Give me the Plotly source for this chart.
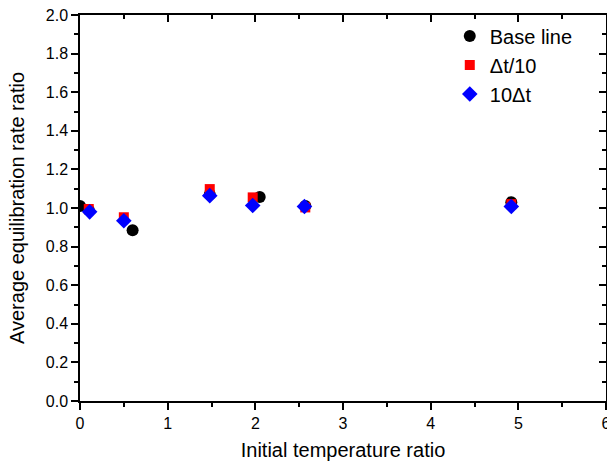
import plotly.graph_objects as go

base_x = [0.0, 0.10, 0.60, 1.48, 2.05, 2.57, 4.92]
base_y = [1.01, 0.99, 0.885, 1.07, 1.057, 1.01, 1.03]
dt10_x = [0.10, 0.50, 1.48, 1.97, 2.57, 4.92]
dt10_y = [0.995, 0.952, 1.098, 1.055, 1.003, 1.02]
ten_dt_x = [0.11, 0.50, 1.48, 1.97, 2.56, 4.92]
ten_dt_y = [0.98, 0.934, 1.064, 1.013, 1.008, 1.008]

font = "Liberation Sans, Arial, sans-serif"

fig = go.Figure()
fig.add_trace(go.Scatter(x=base_x, y=base_y, mode="markers", name="Base line",
                         marker=dict(symbol="circle", size=12, color="black")))
fig.add_trace(go.Scatter(x=dt10_x, y=dt10_y, mode="markers", name="\u0394t/10",
                         marker=dict(symbol="square", size=10, color="#ff0000")))
fig.add_trace(go.Scatter(x=ten_dt_x, y=ten_dt_y, mode="markers", name="10\u0394t",
                         marker=dict(symbol="diamond", size=12, color="#0000ff")))
# transparent copy on the mirrored axes so that they are drawn (inward ticks on top/right)
fig.add_trace(go.Scatter(x=base_x, y=base_y, xaxis="x2", yaxis="y2", mode="markers",
                         marker=dict(opacity=0, size=1), showlegend=False, hoverinfo="skip"))

common = dict(showgrid=False, zeroline=False, linecolor="black", linewidth=1.5,
              tickcolor="black", ticklen=7, tickwidth=1.5, automargin=False,
              ticklabeloverflow="allow",
              tickfont=dict(family=font, size=16, color="black"))

fig.update_layout(
    width=607, height=465,
    margin=dict(l=80, r=1, t=15, b=64),
    paper_bgcolor="white", plot_bgcolor="white",
    font=dict(family=font, color="black"),
    xaxis=dict(range=[0, 6], dtick=1, ticks="outside", showline=True,
               minor=dict(dtick=0.5, ticks="outside", ticklen=4, tickcolor="black", tickwidth=1.5),
               title=dict(text="Initial temperature ratio", font=dict(family=font, size=20), standoff=12),
               **common),
    yaxis=dict(range=[0, 2], dtick=0.2, tickformat=".1f", ticks="outside", showline=True,
               minor=dict(dtick=0.1, ticks="outside", ticklen=4, tickcolor="black", tickwidth=1.5),
               title=dict(text="Average equilibration rate ratio", font=dict(family=font, size=20), standoff=16),
               **common),
    xaxis2=dict(range=[0, 6], dtick=1, ticks="inside", showline=True, overlaying="x", side="top",
                showticklabels=False, anchor="y2",
                minor=dict(dtick=0.5, ticks="inside", ticklen=4, tickcolor="black", tickwidth=1.5),
                **common),
    yaxis2=dict(range=[0, 2], dtick=0.2, ticks="inside", showline=True, overlaying="y", side="right",
                showticklabels=False, anchor="x2",
                minor=dict(dtick=0.1, ticks="inside", ticklen=4, tickcolor="black", tickwidth=1.5),
                **common),
    legend=dict(x=0.703, y=0.996, xanchor="left", yanchor="top", bgcolor="rgba(0,0,0,0)",
                font=dict(family=font, size=20), itemsizing="trace", tracegroupgap=0),
    showlegend=True,
)

fig.write_html("out.html", config={"displayModeBar": False},
               post_script="document.body.style.margin='0';document.body.style.overflow='hidden';")
